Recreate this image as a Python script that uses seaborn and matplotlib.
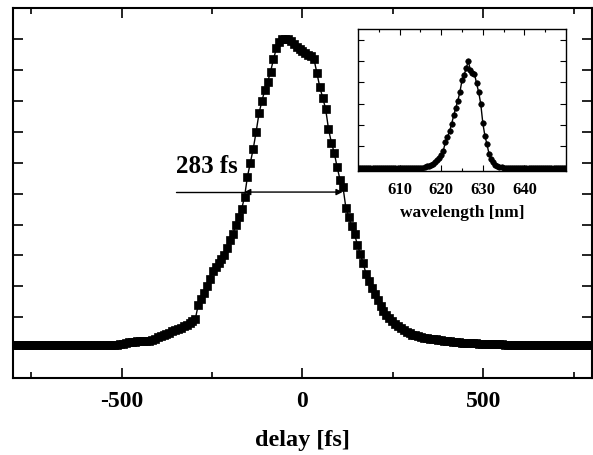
import numpy as np
import matplotlib
matplotlib.use("Agg")
import matplotlib.pyplot as plt
import seaborn as sns

# autocorrelation trace, one point every 8 fs from -800 to 800 fs
delay_fs = np.arange(-800, 801, 8)
signal = [
    0.010, 0.010, 0.010, 0.010, 0.010, 0.010, 0.010, 0.010, 0.010, 0.010,
    0.010, 0.010, 0.010, 0.010, 0.010, 0.010, 0.010, 0.010, 0.010, 0.010,
    0.010, 0.010, 0.010, 0.010, 0.010, 0.010, 0.010, 0.010, 0.010, 0.010,
    0.010, 0.010, 0.010, 0.010, 0.010, 0.010, 0.011, 0.012, 0.014, 0.018,
    0.020, 0.021, 0.021, 0.022, 0.022, 0.023, 0.023, 0.024, 0.026, 0.030,
    0.036, 0.040, 0.043, 0.046, 0.050, 0.054, 0.058, 0.062, 0.066, 0.071,
    0.076, 0.081, 0.087, 0.095, 0.140, 0.160, 0.180, 0.200, 0.225, 0.250,
    0.262, 0.276, 0.290, 0.300, 0.325, 0.350, 0.370, 0.400, 0.425, 0.450,
    0.490, 0.555, 0.600, 0.645, 0.700, 0.760, 0.800, 0.835, 0.862, 0.895,
    0.935, 0.970, 0.990, 1.000, 1.000, 1.000, 0.995, 0.985, 0.975, 0.968,
    0.960, 0.955, 0.948, 0.945, 0.935, 0.890, 0.845, 0.810, 0.775, 0.710,
    0.665, 0.632, 0.585, 0.545, 0.522, 0.455, 0.425, 0.395, 0.368, 0.335,
    0.305, 0.274, 0.240, 0.216, 0.195, 0.174, 0.155, 0.137, 0.121, 0.108,
    0.097, 0.088, 0.079, 0.071, 0.064, 0.058, 0.053, 0.048, 0.044, 0.041,
    0.038, 0.036, 0.034, 0.032, 0.030, 0.029, 0.028, 0.026, 0.025, 0.024,
    0.023, 0.022, 0.021, 0.020, 0.019, 0.018, 0.017, 0.017, 0.016, 0.015,
    0.015, 0.014, 0.014, 0.013, 0.013, 0.013, 0.012, 0.012, 0.012, 0.012,
    0.011, 0.011, 0.011, 0.011, 0.011, 0.011, 0.011, 0.011, 0.011, 0.011,
    0.011, 0.011, 0.011, 0.010, 0.010, 0.010, 0.010, 0.010, 0.010, 0.010,
    0.010, 0.010, 0.010, 0.010, 0.010, 0.010, 0.010, 0.010, 0.010, 0.010,
    0.010,
]

# spectrum (inset), every 0.5 nm from 600 to 650 nm
wavelength_nm = np.arange(600, 650.01, 0.5)
spectrum = [
    0.00, 0.00, 0.00, 0.00, 0.00, 0.00, 0.00, 0.00, 0.00, 0.00,
    0.00, 0.00, 0.00, 0.00, 0.00, 0.00, 0.00, 0.00, 0.00, 0.00,
    0.00, 0.00, 0.00, 0.00, 0.00, 0.00, 0.00, 0.00, 0.00, 0.00,
    0.00, 0.00, 0.01, 0.015, 0.02, 0.03, 0.04, 0.05, 0.07, 0.09,
    0.12, 0.16, 0.24, 0.29, 0.34, 0.41, 0.49, 0.56, 0.63, 0.71,
    0.82, 0.87, 0.93, 1.00, 0.92, 0.89, 0.88, 0.79, 0.71, 0.60,
    0.42, 0.30, 0.22, 0.13, 0.08, 0.05, 0.03, 0.015, 0.01, 0.005,
    0.00, 0.00, 0.00, 0.00, 0.00, 0.00, 0.00, 0.00, 0.00, 0.00,
    0.00, 0.00, 0.00, 0.00, 0.00, 0.00, 0.00, 0.00, 0.00, 0.00,
    0.00, 0.00, 0.00, 0.00, 0.00, 0.00, 0.00, 0.00, 0.00, 0.00,
    0.00,
]
assert len(signal) == len(delay_fs)
assert len(spectrum) == len(wavelength_nm)

main_xticks = [-500, 0, 500]
inset_xticks = [610, 620, 630, 640]

# FWHM marker
fwhm_label = "283 fs"
half_level = 0.505
fwhm_left, fwhm_right = -161, 111
line_start = -350

sns.set_theme(style="ticks")
plt.rcParams["font.family"] = ["Liberation Serif", "DejaVu Serif"]
plt.rcParams["font.weight"] = "bold"
plt.rcParams["axes.labelweight"] = "bold"
plt.rcParams["axes.unicode_minus"] = False

fig = plt.figure(figsize=(5.93, 4.55), dpi=100)
ax = fig.add_axes([0.022, 0.169, 0.976, 0.813])

sns.lineplot(x=delay_fs, y=signal, ax=ax, color="black", linewidth=1.0,
             marker="s", markersize=5.8, markeredgecolor="black",
             markerfacecolor="black", markeredgewidth=0.5)

ax.set_xlim(-800, 800)
ax.set_ylim(-0.097, 1.10)
ax.set_xticks(main_xticks)
ax.set_xticks([-750, -250, 250, 750], minor=True)
ax.set_yticks(np.arange(0, 1.01, 0.1))
ax.set_yticklabels([])
ax.tick_params(which="both", direction="in", top=True, right=True,
               colors="black", width=1.2)
ax.tick_params(which="major", length=7, labelsize=17, pad=9)
ax.tick_params(which="minor", length=4)
ax.set_xlabel("delay [fs]", fontsize=17.5, labelpad=13, color="black")
for s in ax.spines.values():
    s.set_linewidth(1.5)
    s.set_color("black")

ax.plot([line_start, fwhm_left], [half_level, half_level], color="black", lw=1.0)
ax.annotate("", xy=(fwhm_right, half_level), xytext=(fwhm_left, half_level),
            arrowprops=dict(arrowstyle="<|-|>", color="black", lw=1.0,
                            mutation_scale=9, shrinkA=0, shrinkB=0))
ax.text(line_start, half_level + 0.045, fwhm_label, fontsize=18,
        fontweight="bold", ha="left", va="bottom", color="black")

# inset: spectrum
ins = fig.add_axes([0.6037, 0.6242, 0.3508, 0.3121])
sns.lineplot(x=wavelength_nm, y=spectrum, ax=ins, color="black", linewidth=1.0,
             marker="o", markersize=4.0, markeredgecolor="black",
             markerfacecolor="black", markeredgewidth=0.4)
ins.set_xlim(600, 650)
ins.set_ylim(-0.03, 1.30)
ins.set_xticks(inset_xticks)
ins.set_xticks(np.arange(605, 650, 10), minor=True)
ins.set_yticks(np.arange(0, 1.21, 0.2))
ins.set_yticklabels([])
ins.tick_params(which="both", direction="in", top=True, right=True,
                colors="black", width=0.8)
ins.tick_params(which="major", length=4, labelsize=12, pad=8)
ins.tick_params(which="minor", length=2.5)
ins.set_xlabel("wavelength [nm]", fontsize=12.5, labelpad=5, color="black")
for s in ins.spines.values():
    s.set_linewidth(1.0)
    s.set_color("black")

fig.savefig("out.png", dpi=100)
